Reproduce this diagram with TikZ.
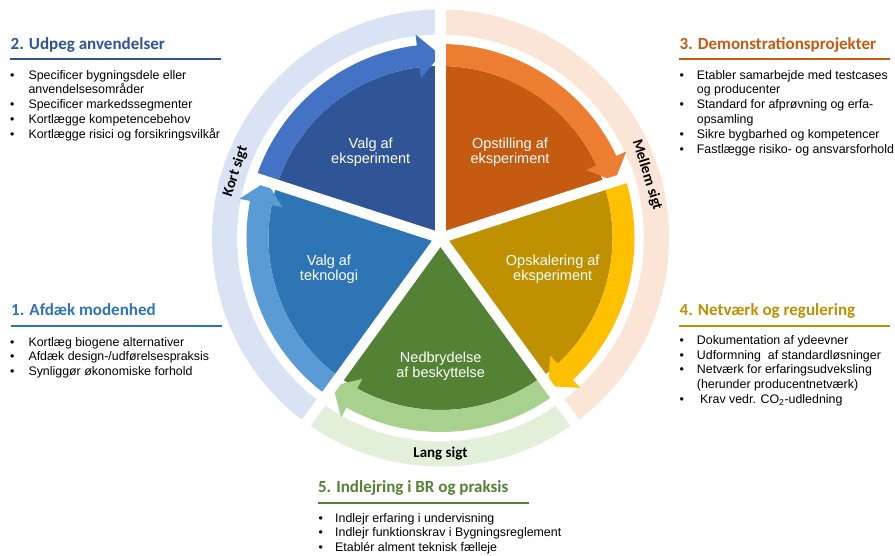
\documentclass[tikz,border=0pt]{standalone}
\usepackage{fontspec}
\setmainfont{Liberation Sans}
\newfontfamily\calib{Carlito}
\definecolor{dkblueA}{HTML}{2F5597}
\definecolor{ltblueA}{HTML}{4472C4}
\definecolor{dkorange}{HTML}{C55A11}
\definecolor{ltorange}{HTML}{ED7D31}
\definecolor{dkgold}{HTML}{BF9000}
\definecolor{ltgold}{HTML}{FFC000}
\definecolor{dkgreen}{HTML}{548235}
\definecolor{ltgreen}{HTML}{A9D18E}
\definecolor{dkblueB}{HTML}{2E75B6}
\definecolor{ltblueB}{HTML}{5B9BD5}
\definecolor{ringblue}{HTML}{DAE3F3}
\definecolor{ringorange}{HTML}{FBE5D6}
\definecolor{ringgreen}{HTML}{E2F0D9}
\begin{document}
\begin{tikzpicture}[x=1pt,y=1pt,
  bt/.style={anchor=base west, inner sep=0pt, font=\fontsize{12.4}{15}\selectfont},
  bd/.style={anchor=base, inner sep=0pt, font=\fontsize{12.4}{15}\selectfont},
  hd/.style={anchor=base west, inner sep=0pt, font=\calib\bfseries\fontsize{17}{20}\selectfont},
  wl/.style={text=white, align=center, inner sep=0pt, font=\fontsize{14.5}{15}\selectfont},
  rl/.style={inner sep=0pt, font=\calib\bfseries\fontsize{15}{17}\selectfont},
  uline/.style={line width=2pt}]
\useasboundingbox (0,0) rectangle (895,555);
\fill[white] (0,0) rectangle (895,555);

\begin{scope}[shift={(440.5,317)}]
  % outer ring
  \fill[ringblue] (90:203.5) arc[start angle=90,end angle=234,radius=203.5] -- (234:228.5) arc[start angle=234,end angle=90,radius=228.5] -- cycle;
  \fill[ringorange] (-54:203.5) arc[start angle=-54,end angle=90,radius=203.5] -- (90:228.5) arc[start angle=90,end angle=-54,radius=228.5] -- cycle;
  \fill[ringgreen] (-126:203.5) arc[start angle=-126,end angle=-54,radius=203.5] -- (-54:228.5) arc[start angle=-54,end angle=-126,radius=228.5] -- cycle;
  % wedges and arrow bands
  \foreach \a/\dk/\lt in {162/dkblueA/ltblueA, 90/dkorange/ltorange, 18/dkgold/ltgold, -54/dkgreen/ltgreen, 234/dkblueB/ltblueB}{
    \fill[\dk] (0,0) -- (\a:172) arc[start angle=\a, end angle={\a-72}, radius=172] -- cycle;
    \fill[\lt] (\a:194) arc[start angle=\a, end angle={\a-65}, radius=194]
      -- ({\a-65}:205) -- ({\a-72}:183) -- ({\a-65}:161) -- ({\a-65}:172)
      arc[start angle={\a-65}, end angle=\a, radius=172] -- cycle;
  }
  % white gaps
  \foreach \a/\r in {90/236, -54/236, -126/236, 18/200, 162/200}
    \draw[white, line width=10.5pt] (0,0) -- (\a:\r);
  \fill[white] (0,0) circle[radius=5];
  % ring labels
  \node[rl, rotate=72] (kort) at (162:215.5) {Kort sigt};
  \node[rl, rotate=-73] (mellem) at (17:216) {Mellem sigt};
  \node[rl] (lang) at (-90:215.5) {Lang sigt};
\end{scope}

% wheel labels
\node[wl] (w1) at (370.7,402.5) {Valg af\\eksperiment};
\node[wl] (w2) at (510,402.5) {Opstilling af\\eksperiment};
\node[wl] (w3) at (552.7,286) {Opskalering af\\eksperiment};
\node[wl] (w4) at (440.7,189) {Nedbrydelse\\af beskyttelse};
\node[wl] (w5) at (329,286) {Valg af\\teknologi};

% block 2
\node[hd, text=dkblueA] (h2) at (10.5,505.7) {2. Udpeg anvendelser};
\draw[uline, dkblueA] (10,495.7) -- (221,495.7);
\node[bd] (b2a) at (12.3,475.7) {•};
\node[bt] (t2a) at (28.3,475.7) {Specificer bygningsdele eller};
\node[bt] (t2b) at (28.3,461) {anvendelsesområder};
\node[bd] (b2c) at (12.3,446.3) {•};
\node[bt] (t2c) at (28.3,446.3) {Specificer markedssegmenter};
\node[bd] (b2d) at (12.3,431.3) {•};
\node[bt] (t2d) at (28.3,431.3) {Kortlægge kompetencebehov};
\node[bd] (b2e) at (12.3,416.3) {•};
\node[bt] (t2e) at (28.3,416.3) {Kortlægge risici og forsikringsvilkår};

% block 3
\node[hd, text=dkorange] (h3) at (679.5,505.7) {3. Demonstrationsprojekter};
\draw[uline, dkorange] (679,495.7) -- (890,495.7);
\node[bd] (b3a) at (681.7,475.7) {•};
\node[bt] (t3a) at (696.7,475.7) {Etabler samarbejde med testcases};
\node[bt] (t3b) at (696.7,461) {og producenter};
\node[bd] (b3c) at (681.7,446.3) {•};
\node[bt] (t3c) at (696.7,446.3) {Standard for afprøvning og erfa-};
\node[bt] (t3d) at (696.7,431.3) {opsamling};
\node[bd] (b3e) at (681.7,416.3) {•};
\node[bt] (t3e) at (696.7,416.3) {Sikre bygbarhed og kompetencer};
\node[bd] (b3f) at (681.7,401.5) {•};
\node[bt] (t3f) at (696.7,401.5) {Fastlægge risiko- og ansvarsforhold};

% block 1
\node[hd, text=dkblueB] (h1) at (11,239.3) {1. Afdæk modenhed};
\draw[uline, dkblueB] (10.7,229) -- (221.7,229);
\node[bd] (b1a) at (12.3,208.3) {•};
\node[bt] (t1a) at (28.3,208.3) {Kortlæg biogene alternativer};
\node[bd] (b1b) at (12.3,194) {•};
\node[bt] (t1b) at (28.3,194) {Afdæk design-/udførelsespraksis};
\node[bd] (b1c) at (12.3,179.7) {•};
\node[bt] (t1c) at (28.3,179.7) {Synliggør økonomiske forhold};

% block 4
\node[hd, text=dkgold] (h4) at (679.5,239.3) {4. Netværk og regulering};
\draw[uline, dkgold] (679,229) -- (890,229);
\node[bd] (b4a) at (681.7,210) {•};
\node[bt] (t4a) at (696.7,210) {Dokumentation af ydeevner};
\node[bd] (b4b) at (681.7,195.7) {•};
\node[bt] (t4b) at (696.7,195.7) {Udformning\ \ af standardløsninger};
\node[bd] (b4c) at (681.7,181) {•};
\node[bt] (t4c) at (696.7,181) {Netværk for erfaringsudveksling};
\node[bt] (t4d) at (696.7,166.7) {(herunder producentnetværk)};
\node[bd] (b4e) at (681.7,151.7) {•};
\node[bt] (t4e) at (700,151.7) {Krav vedr. CO\textsubscript{2}-udledning};

% block 5
\node[hd, text=dkgreen] (h5) at (317.8,62.3) {5. Indlejring i BR og praksis};
\draw[uline, dkgreen] (318.3,52.3) -- (529.3,52.3);
\node[bd] (b5a) at (320.7,32.3) {•};
\node[bt] (t5a) at (335,32.3) {Indlejr erfaring i undervisning};
\node[bd] (b5b) at (320.7,18.3) {•};
\node[bt] (t5b) at (335,18.3) {Indlejr funktionskrav i Bygningsreglement};
\node[bd] (b5c) at (320.7,4) {•};
\node[bt] (t5c) at (335,4) {Etablér alment teknisk fælleje};
\end{tikzpicture}
\end{document}
